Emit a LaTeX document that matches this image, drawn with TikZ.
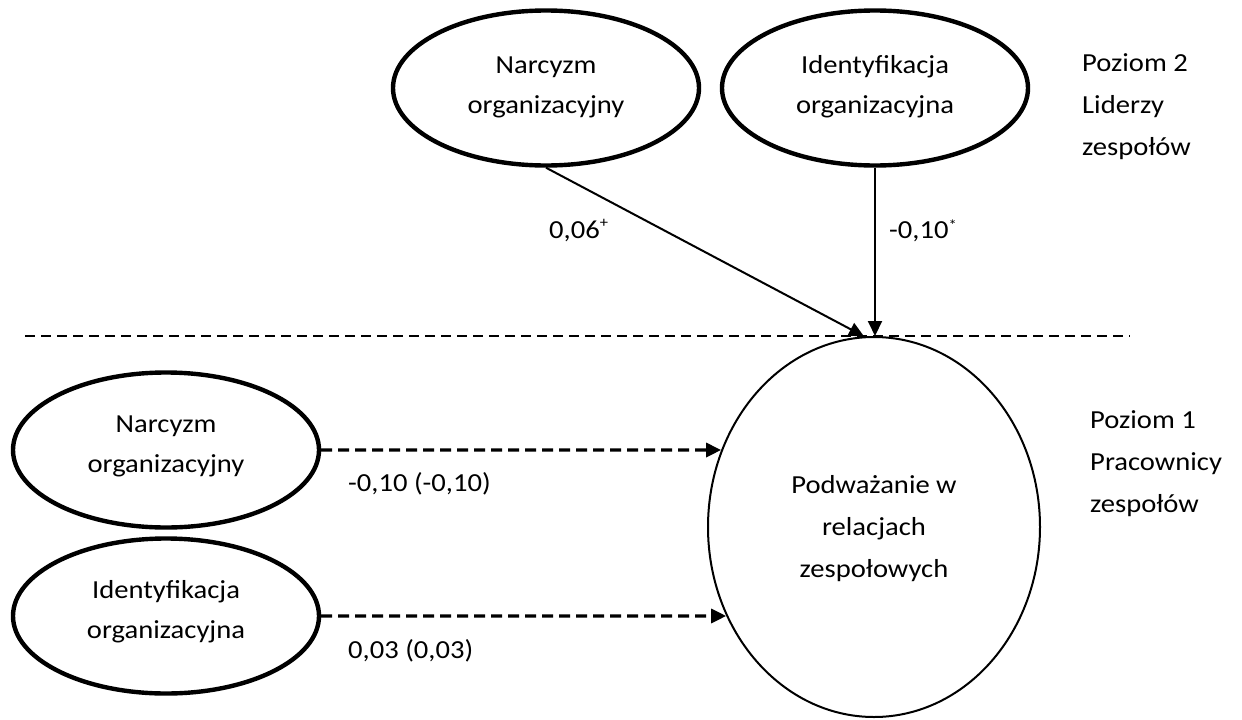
\documentclass[tikz,border=0pt]{standalone}
\usepackage{fontspec}
\setmainfont{Carlito}
\usepackage{graphicx}
\usetikzlibrary{shapes.geometric,arrows.meta,intersections}
% text set slightly wide, one or more centred lines
\newcommand\wide[2][c]{\scalebox{1.1}[1]{\begin{tabular}{@{}#1@{}}#2\end{tabular}}}
\newcommand\supmark[2]{\raisebox{#1}{\fontsize{15}{15}\selectfont #2}}
\begin{document}
\begin{tikzpicture}[x=1pt,y=-1pt,
  every node/.style={inner sep=0pt},
  txt/.style={font=\fontsize{26}{40}\selectfont},
  txtwide/.style={font=\fontsize{26}{42}\selectfont},
  latent/.style={ellipse, draw, line width=4.4pt, minimum width=306pt, minimum height=155pt},
  outcome/.style={ellipse, draw, line width=2pt, minimum width=332pt, minimum height=380pt},
  tip/.style={-{Triangle[length=15pt,width=14pt]}},
  sigpath/.style={tip, line width=2pt},
  nspath/.style={tip, line width=3.2pt, dash pattern=on 11pt off 6pt},
  coef/.style={font=\fontsize{26}{40}\selectfont, anchor=base west},
  level/.style={font=\fontsize{26}{42}\selectfont, anchor=west}]
\useasboundingbox (0,0) rectangle (1242,720);

% level-2 predictors (team leaders)
\node[latent] (narc2) at (546,88) {};
\node[txt] (narc2t) at (546,85) {\wide{Narcyzm\\organizacyjny}};
\node[latent] (ident2) at (875,88) {};
\node[txt] (ident2t) at (875,85) {\wide{Identyfikacja\\organizacyjna}};

% outcome
\node[outcome] (pod) at (874,527) {};
\node[txtwide] (podt) at (874,527) {\wide{Podważanie w\\relacjach\\zespołowych}};

% level-1 predictors (team members)
\node[latent] (narc1) at (166,450) {};
\node[txt] (narc1t) at (166,444) {\wide{Narcyzm\\organizacyjny}};
\node[latent] (ident1) at (166,616) {};
\node[txt] (ident1t) at (166,610) {\wide{Identyfikacja\\organizacyjna}};

% boundary between levels
\coordinate (cutL) at (25,336);
\coordinate (cutR) at (1130,336);
\draw[line width=1.3pt, dash pattern=on 10pt off 6pt] (cutL) -- (cutR);

% level-2 paths
\draw[sigpath] (narc2.south) -- (pod.93.5);
\draw[sigpath] (ident2.south) -- (ident2.south |- pod.north);

% level-1 paths, horizontal up to the rim of the outcome
\path[name path=podrim] (pod.center) ellipse [x radius=167, y radius=191];
\path[name path=row1] (narc1.east) -- ++(700,0);
\path[name path=row2] (ident1.east) -- ++(700,0);
\path[name intersections={of=podrim and row1, by={h1}}];
\path[name intersections={of=podrim and row2, by={h2}}];
\draw[nspath] (narc1.east) -- (h1);
\draw[nspath] (ident1.east) -- (h2);

% coefficients
\node[coef] (c1) at (549,237) {\wide{0,06\supmark{11pt}{+}}};
\node[coef] (c2) at (889,237) {\wide{-0,10\supmark{8pt}{*}}};
\node[coef] (c3) at (348,490) {\wide{-0,10 (-0,10)}};
\node[coef] (c4) at (348,657) {\wide{0,03 (0,03)}};

% level labels
\node[level] (lv2) at (1082,105) {\wide[l]{Poziom 2\\Liderzy\\zespołów}};
\node[level] (lv1) at (1090,462) {\wide[l]{Poziom 1\\Pracownicy\\zespołów}};
\end{tikzpicture}
\end{document}
